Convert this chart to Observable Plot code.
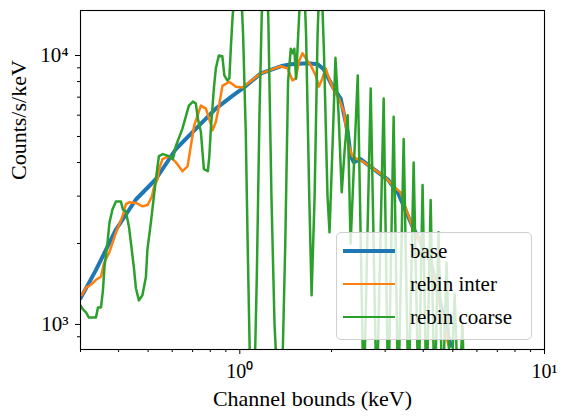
<!DOCTYPE html>
<html><head><meta charset="utf-8">
<script src="https://cdn.jsdelivr.net/npm/d3@7"></script>
<script src="https://cdn.jsdelivr.net/npm/@observablehq/plot@0.6"></script>
<style>
body{margin:0;background:#fff;}
#wrap{position:relative;width:568px;height:419px;font-family:"Liberation Serif",serif;}
.legend{position:absolute;left:336px;top:232px;width:196px;height:108px;background:rgba(255,255,255,0.8);border:1px solid #d0d0d0;border-radius:5px;box-sizing:border-box;}
.item{position:absolute;left:0;height:30px;width:196px;}
.sw{position:absolute;left:6px;width:52px;}
.lt{position:absolute;left:73px;font-size:21px;line-height:30px;top:0;color:#000;white-space:nowrap;}
</style></head>
<body><div id="wrap"></div>
<script>
// x: channel energy (keV), y: counts/s/keV
const baseE = [0.30,0.337,0.392,0.456,0.530,0.617,0.717,0.834,0.948,1.023,1.172,1.363,1.47,1.671,1.802,1.885,2.033,2.143,2.26,2.31,2.365,2.49,2.75,3.056,3.30,3.69,4.23,4.92];
const baseV = [1250,1592,2250,2915,3466,4491,5338,6343,7096,7541,8582,9118,9277,9362,9280,8884,7541,6914,5200,4227,4013,4119,3779,3466,3097,2309,1707,834];

const interE = [0.303,0.3128,0.3245,0.3372,0.3502,0.3584,0.3735,0.3822,0.3921,0.4017,0.4119,0.4229,0.4333,0.456,0.4798,0.4985,0.5145,0.5232,0.537,0.5432,0.5574,0.5859,0.6168,0.6488,0.6737,0.6906,0.7079,0.7451,0.7738,0.7935,0.814,0.8344,0.855,0.8768,0.9224,0.9703,1.02,1.172,1.363,1.434,1.489,1.526,1.565,1.605,1.645,1.709,1.774,1.818,1.866,1.913,1.962,2.038,2.115,2.196,2.254,2.281,2.34,2.43,2.557,2.756,2.971,3.202,3.368,3.68,4.23,4.84];
const interV = [1284,1370,1405,1466,1505,1693,1860,2011,2192,2350,2520,2800,2845,2830,2750,2780,2992,3260,3466,3779,4119,4227,4013,3714,3870,4608,5480,6510,6343,5815,5270,5670,6510,7710,7980,7660,7600,8582,9118,8960,8080,8220,9530,10200,9770,9200,8435,7660,8220,8960,8220,7400,6915,6180,4895,4608,4227,4119,4013,3779,3560,3260,3097,2309,1707,834];

const coarseE = [0.300,0.3055,0.3128,0.3197,0.3372,0.3423,0.3502,0.3555,0.3595,0.3678,0.3734,0.3819,0.3921,0.4072,0.4134,0.4229,0.4326,0.4392,0.4493,0.456,0.4665,0.479,0.4918,0.4973,0.5106,0.5224,0.5304,0.5425,0.5591,0.5851,0.603,0.6168,0.6478,0.6806,0.7014,0.7174,0.7284,0.7451,0.7621,0.7854,0.7943,0.8034,0.8219,0.8344,0.8534,0.8763,0.8897,0.91,0.9239,0.9344,0.945,0.9557,0.99,1.025,1.046,1.062,1.08,1.10,1.12,1.137,1.16,1.18,1.21,1.24,1.27,1.30,1.34,1.38,1.41,1.44,1.47,1.49,1.51,1.53,1.57,1.61,1.65,1.69,1.72,1.76,1.80,1.84,1.89,1.94,1.97,2.02,2.06,2.11,2.16,2.21,2.26,2.31,2.438,2.55,2.689,2.813,2.966,3.07,3.198,3.31,3.45,3.58,3.72,3.86,3.98,4.10,4.23,4.36,4.49,4.63,4.77,4.92,5.07,5.22,5.38,5.5];
const coarseV = [1177,1137,1108,1061,1061,1157,1157,1340,1635,2011,2390,2674,2865,2865,2674,2628,2309,2011,1621,1364,1229,1284,1500,1893,2390,2992,3466,4227,4300,4227,4119,4608,5338,6510,6740,6625,5815,5200,3779,3714,4227,5338,7540,8960,10000,9940,8435,8080,8220,10650,13450,16000,30000,12000,5200,1893,700,400,700,1500,6000,14000,30000,14000,3000,1000,500,700,2000,8000,10600,10200,10600,8200,15000,25000,12000,3000,1284,3000,12000,25000,10000,3000,2200,5000,9800,6000,3100,4500,6000,2000,8435,500,7540,500,6915,500,5920,500,4895,500,4000,500,3300,500,2900,500,2200,500,1700,500,1300,500,1000,400];

const xMajor = [1, 10];
const xMajorLabels = ["10⁰", "10¹"];
const xMinor = [0.3,0.4,0.5,0.6,0.7,0.8,0.9,2,3,4,5,6,7,8,9];
const yMajor = [1000, 10000];
const yMajorLabels = ["10³", "10⁴"];
const yMinor = [900,2000,3000,4000,5000,6000,7000,8000,9000];
const seriesNames = ["base", "rebin inter", "rebin coarse"];
const seriesColors = ["#1f77b4", "#ff7f0e", "#2ca02c"];
const xLabel = "Channel bounds (keV)";
const yLabel = "Counts/s/keV";

const toRows = (E, V) => E.map((e, i) => ({e, v: V[i]}));
const base = toRows(baseE, baseV), inter = toRows(interE, interV), coarse = toRows(coarseE, coarseV);

const plot = Plot.plot({
  width: 568, height: 419,
  marginLeft: 80, marginRight: 24, marginTop: 10, marginBottom: 70,
  x: {type: "log", domain: [0.3, 10]},
  y: {type: "log", domain: [807, 14700]},
  style: {fontFamily: "Liberation Serif", fontSize: "20px", color: "#000", background: "#fff", overflow: "visible"},
  marks: [
    Plot.line(base, {x: "e", y: "v", stroke: seriesColors[0], strokeWidth: 4, clip: true}),
    Plot.line(inter, {x: "e", y: "v", stroke: seriesColors[1], strokeWidth: 2.5, clip: true}),
    Plot.line(coarse, {x: "e", y: "v", stroke: seriesColors[2], strokeWidth: 2.5, clip: true}),
    Plot.frame({stroke: "#000", strokeWidth: 1.1}),
    Plot.axisX({ticks: xMajor, tickFormat: (d) => xMajorLabels[xMajor.indexOf(d)], tickSize: 5, tickPadding: 9, fontSize: 20, label: null}),
    Plot.axisX({ticks: xMinor, tickFormat: () => "", tickSize: 3, label: null}),
    Plot.axisY({ticks: yMajor, tickFormat: (d) => yMajorLabels[yMajor.indexOf(d)], tickSize: 5, tickPadding: 7, fontSize: 21, label: null}),
    Plot.axisY({ticks: yMinor, tickFormat: () => "", tickSize: 3, label: null}),
    Plot.text([xLabel], {frameAnchor: "bottom", dy: 56, text: d => d, fontSize: 22}),
    Plot.text([yLabel], {frameAnchor: "left", dx: -62, rotate: -90, text: d => d, fontSize: 22})
  ]
});
const wrap = document.getElementById("wrap");
wrap.appendChild(plot);

const leg = document.createElement("div");
leg.className = "legend";
const widths = [4, 2.5, 2.5];
seriesNames.forEach((n, i) => {
  const it = document.createElement("div");
  it.className = "item";
  it.style.top = (3 + i * 33) + "px";
  const sw = document.createElement("div");
  sw.className = "sw";
  sw.style.top = (15 - widths[i] / 2) + "px";
  sw.style.height = widths[i] + "px";
  sw.style.background = seriesColors[i];
  const t = document.createElement("div");
  t.className = "lt";
  t.textContent = n;
  it.appendChild(sw); it.appendChild(t);
  leg.appendChild(it);
});
wrap.appendChild(leg);
</script>
</body></html>
